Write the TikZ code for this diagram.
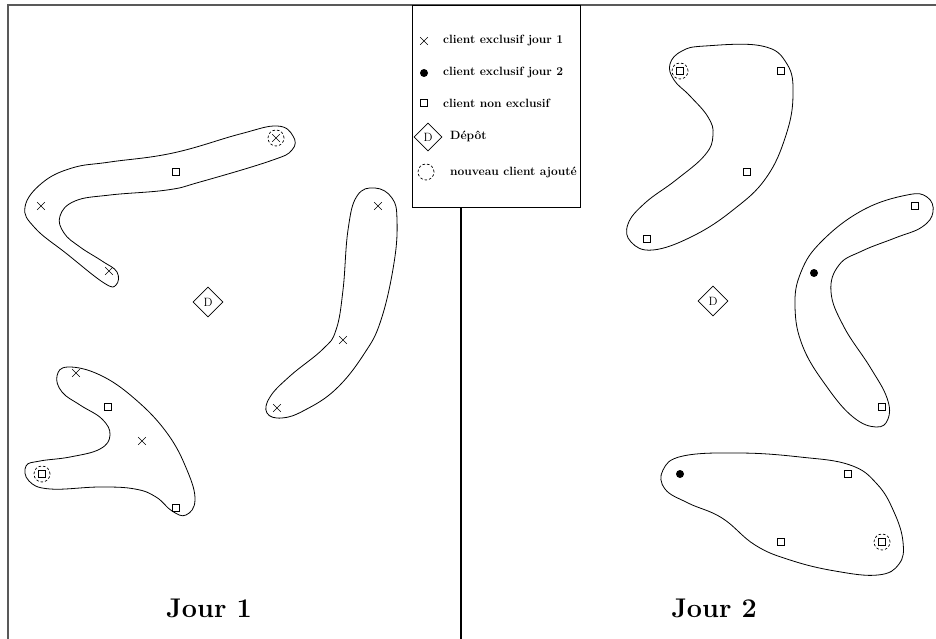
\documentclass[tikz,border=0pt]{standalone}
\usepackage{tikz}
\usetikzlibrary{positioning,shapes.geometric,shapes.misc}
\tikzset{excla/.style={draw,cross out,minimum size=7pt,inner sep=0pt,line width=0.6pt},
  exclb/.style={circle,fill,minimum size=8pt,inner sep=0pt},
  nonexcl/.style={draw,rectangle,minimum size=7pt,inner sep=0pt,line width=0.6pt},
  depot/.style={draw,diamond,minimum size=30pt,inner sep=0pt,line width=0.7pt,font=\fontsize{12}{13}\selectfont},
  added/.style={draw,circle,dash pattern=on 2.5pt off 2pt,minimum size=16pt,inner sep=0pt,line width=0.7pt},
  legtext/.style={anchor=west,inner sep=0pt,font=\fontsize{12}{13}\selectfont\bfseries},
  day/.style={font=\fontsize{27}{30}\selectfont\bfseries},
  tour/.style={line width=0.8pt}}

\begin{document}
\begin{tikzpicture}[x=1pt,y=-1pt]
\useasboundingbox (0,0) rectangle (936,639);

% frame
\draw[black!65,line width=1.3pt] (936,5) -- (8,5) -- (8,639);
\node[draw,line width=0.9pt,minimum width=168pt,minimum height=202pt,inner sep=0pt] (legend) at (496,106) {};
\coordinate (split) at (461,639);
\draw[line width=2pt] (split |- legend.south) -- (split);

% legend
\node[excla] (lgx) at (424,41) {};
\node[legtext] at (443,41) {client exclusif jour 1};
\node[exclb] (lgdot) at (424,73) {};
\node[legtext] at (443,73) {client exclusif jour 2};
\node[nonexcl] (lgsq) at (424,103) {};
\node[legtext] at (443,103) {client non exclusif};
\node[depot,minimum size=28pt] (lgdep) at (428,137) {D};
\node[legtext] at (450,136) {Dépôt};
\node[added] (lgnew) at (426,172) {};
\node[legtext] at (450,172) {nouveau client ajouté};

% jour 1
\node[depot] (dep1) at (208,302) {D};
\node[day] (j1) at (209,608) {Jour 1};

\draw[tour] plot[smooth cycle,tension=0.7] coordinates {(277,126) (293,136) (292,150) (270,161) (200,182) (167,190) (110,195) (75,201) (60,216) (64,233) (80,247) (102,261) (117,272) (116,285) (104,283) (67,254) (35,228) (25,207) (42,183) (72,168) (110,162) (173,153) (240,134)};
\node[excla] (a1) at (41,206) {};
\node[excla] (a2) at (109,271) {};
\node[nonexcl] (a3) at (176,172) {};
\node[excla] (a4) at (276,138) {};
\node[added] (a4n) at (276,138) {};

\draw[tour] plot[smooth cycle,tension=0.7] coordinates {(68,367) (100,375) (135,399) (167,433) (187,470) (195,500) (186,515) (172,511) (156,497) (135,489) (100,487) (50,489) (29,481) (26,466) (40,461) (70,457) (100,449) (110,435) (102,419) (80,405) (62,392) (57,376)};
\node[excla] (b1) at (76,373) {};
\node[nonexcl] (b2) at (108,407) {};
\node[excla] (b3) at (142,441) {};
\node[nonexcl] (b4) at (42,474) {};
\node[added] (b4n) at (42,474) {};
\node[nonexcl] (b5) at (176,508) {};

\draw[tour] plot[smooth cycle,tension=0.7] coordinates {(375,188) (392,198) (397,220) (394,263) (381,320) (364,354) (336,389) (305,410) (282,418) (267,413) (270,397) (290,376) (323,349) (336,330) (343,290) (348,230) (357,196)};
\node[excla] (c1) at (378,206) {};
\node[excla] (c2) at (343,340) {};
\node[excla] (c3) at (277,408) {};

% jour 2
\node[depot] (dep2) at (713,301) {D};
\node[day] (j2) at (714,608) {Jour 2};

\draw[tour] plot[smooth cycle,tension=0.7] coordinates {(705,46) (762,46) (787,64) (793,95) (786,135) (766,178) (733,210) (693,236) (653,250) (631,242) (628,224) (645,203) (676,180) (705,155) (713,135) (708,117) (690,96) (674,80) (670,64) (682,51)};
\node[nonexcl] (d1) at (680,71) {};
\node[added] (d1n) at (680,71) {};
\node[nonexcl] (d2) at (781,71) {};
\node[nonexcl] (d3) at (747,172) {};
\node[nonexcl] (d4) at (647,239) {};

\draw[tour] plot[smooth cycle,tension=0.7] coordinates {(907,195) (927,197) (933,212) (922,227) (895,238) (862,251) (839,265) (831,292) (844,327) (870,367) (887,398) (888,419) (876,427) (853,417) (827,387) (803,347) (795,307) (801,272) (822,241) (863,210)};
\node[nonexcl] (e1) at (915,206) {};
\node[exclb] (e2) at (814,273) {};
\node[nonexcl] (e3) at (882,407) {};

\draw[tour] plot[smooth cycle,tension=0.7] coordinates {(683,456) (740,453) (800,457) (850,465) (877,484) (894,512) (903,542) (899,564) (878,575) (835,571) (790,560) (755,545) (722,518) (688,503) (665,489) (663,470)};
\node[exclb] (f1) at (680,474) {};
\node[nonexcl] (f2) at (848,474) {};
\node[nonexcl] (f3) at (781,542) {};
\node[nonexcl] (f4) at (882,542) {};
\node[added] (f4n) at (882,542) {};
\end{tikzpicture}
\end{document}
